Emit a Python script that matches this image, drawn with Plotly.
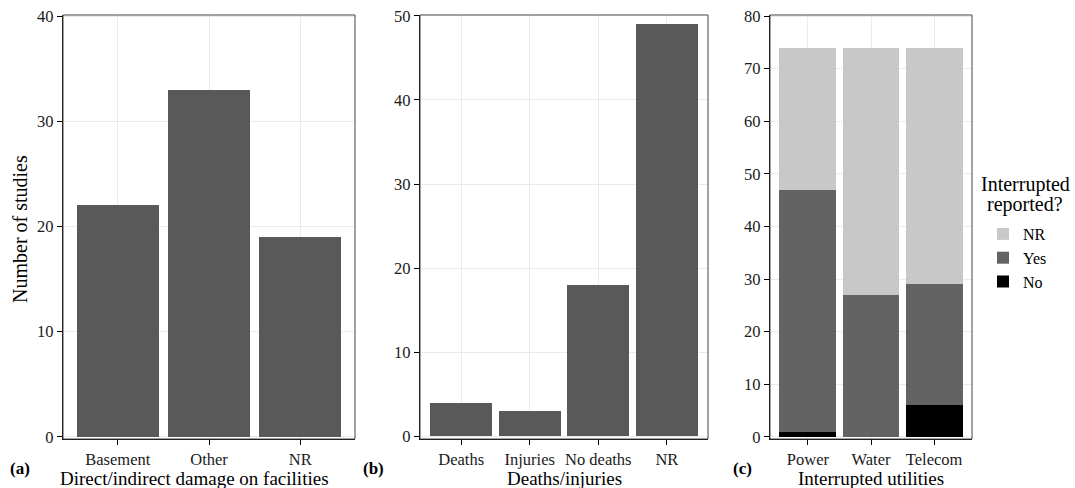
import plotly.graph_objects as go

# Panel (a)
damage_cats = ["Basement", "Other", "NR"]
damage_vals = [22, 33, 19]

# Panel (b)
death_cats = ["Deaths", "Injuries", "No deaths", "NR"]
death_vals = [4, 3, 18, 49]

# Panel (c)
util_cats = ["Power", "Water", "Telecom"]
util_no = [1, 0, 6]
util_yes = [46, 27, 23]
util_nr = [27, 47, 45]

W, H = 1075, 488
FONT = "Liberation Serif"
BAR = "#595959"

def px(x):
    return x / W

def py(y):
    return 1 - y / H

top, bot = 15, 439
doms = {
    "a": (px(63), px(355)),
    "b": (px(420), px(708)),
    "c": (px(770), px(972)),
}

fig = go.Figure()
fig.add_trace(go.Bar(x=damage_cats, y=damage_vals, marker=dict(color=BAR, line=dict(width=0)),
                     xaxis="x", yaxis="y", showlegend=False, width=0.9))
fig.add_trace(go.Bar(x=death_cats, y=death_vals, marker=dict(color=BAR, line=dict(width=0)),
                     xaxis="x2", yaxis="y2", showlegend=False, width=0.9))
for name, vals, col in [("No", util_no, "#000000"), ("Yes", util_yes, "#636363"), ("NR", util_nr, "#C8C8C8")]:
    fig.add_trace(go.Bar(x=util_cats, y=vals, name=name, marker=dict(color=col, line=dict(width=0)),
                         xaxis="x3", yaxis="y3", width=0.9))

tickfont = dict(family=FONT, size=16.5, color="#1a1a1a")
common_x = dict(showline=True, linecolor="black", linewidth=1.2, ticks="outside", ticklen=5,
                tickcolor="black", showgrid=True, gridcolor="#EBEBEB", gridwidth=1,
                tickfont=tickfont, zeroline=False, fixedrange=True, automargin=False, ticklabelstandoff=0)
common_y = dict(showline=True, linecolor="black", linewidth=1.2, ticks="outside", ticklen=5,
                tickcolor="black", showgrid=True, gridcolor="#EBEBEB", gridwidth=1,
                tickfont=tickfont, zeroline=False, dtick=10, fixedrange=True, automargin=False)

fig.update_layout(
    width=W, height=H, margin=dict(l=0, r=0, t=0, b=0, autoexpand=False),
    paper_bgcolor="white", plot_bgcolor="white", barmode="stack",
    font=dict(family=FONT, color="black"),
    xaxis=dict(domain=doms["a"], range=[-0.6, 2.6], anchor="y", **common_x),
    yaxis=dict(domain=[py(bot), py(top)], range=[-0.2, 40.1], anchor="x", **common_y),
    xaxis2=dict(domain=doms["b"], range=[-0.6, 3.6], anchor="y2", **common_x),
    yaxis2=dict(domain=[py(bot), py(top)], range=[-0.3, 50.1], anchor="x2", **common_y),
    xaxis3=dict(domain=doms["c"], range=[-0.6, 2.6], anchor="y3", **common_x),
    yaxis3=dict(domain=[py(bot), py(top)], range=[-0.4, 80.2], anchor="x3", **common_y),
    legend=dict(x=px(983), y=py(217), xanchor="left", yanchor="top", traceorder="reversed",
                font=dict(family=FONT, size=16, color="black"), bgcolor="rgba(0,0,0,0)",
                itemsizing="constant", tracegroupgap=0),
)

# panel borders (grey)
shapes = []
for k in ["a", "b", "c"]:
    x0, x1 = doms[k]
    shapes.append(dict(type="rect", xref="paper", yref="paper", x0=x0, x1=x1, y0=py(bot), y1=py(top),
                       line=dict(color="#444444", width=1), fillcolor="rgba(0,0,0,0)", layer="above"))
fig.update_layout(shapes=shapes)

ann = []
def A(text, x, y, size=17, bold=False, angle=0, xanchor="center"):
    t = f"<b>{text}</b>" if bold else text
    ann.append(dict(text=t, x=px(x), y=py(y), xref="paper", yref="paper", showarrow=False,
                    font=dict(family=FONT, size=size, color="black"), textangle=angle,
                    xanchor=xanchor, yanchor="middle"))

A("Number of studies", 20, 229, size=20, angle=-90)
A("(a)", 8, 468, size=17, bold=True, xanchor="left")
A("Direct/indirect damage on facilities", 194, 478, size=19)
A("(b)", 361, 468, size=17, bold=True, xanchor="left")
A("Deaths/injuries", 564, 478, size=19)
A("(c)", 731, 468, size=17, bold=True, xanchor="left")
A("Interrupted utilities", 871, 478, size=19)
A("Interrupted", 1025, 185, size=20)
A("reported?", 1025, 204, size=20)
fig.update_layout(annotations=ann)

fig.write_html("out.html", config={"displayModeBar": False},
               post_script="document.body.style.margin='0';document.body.style.overflow='hidden';")
